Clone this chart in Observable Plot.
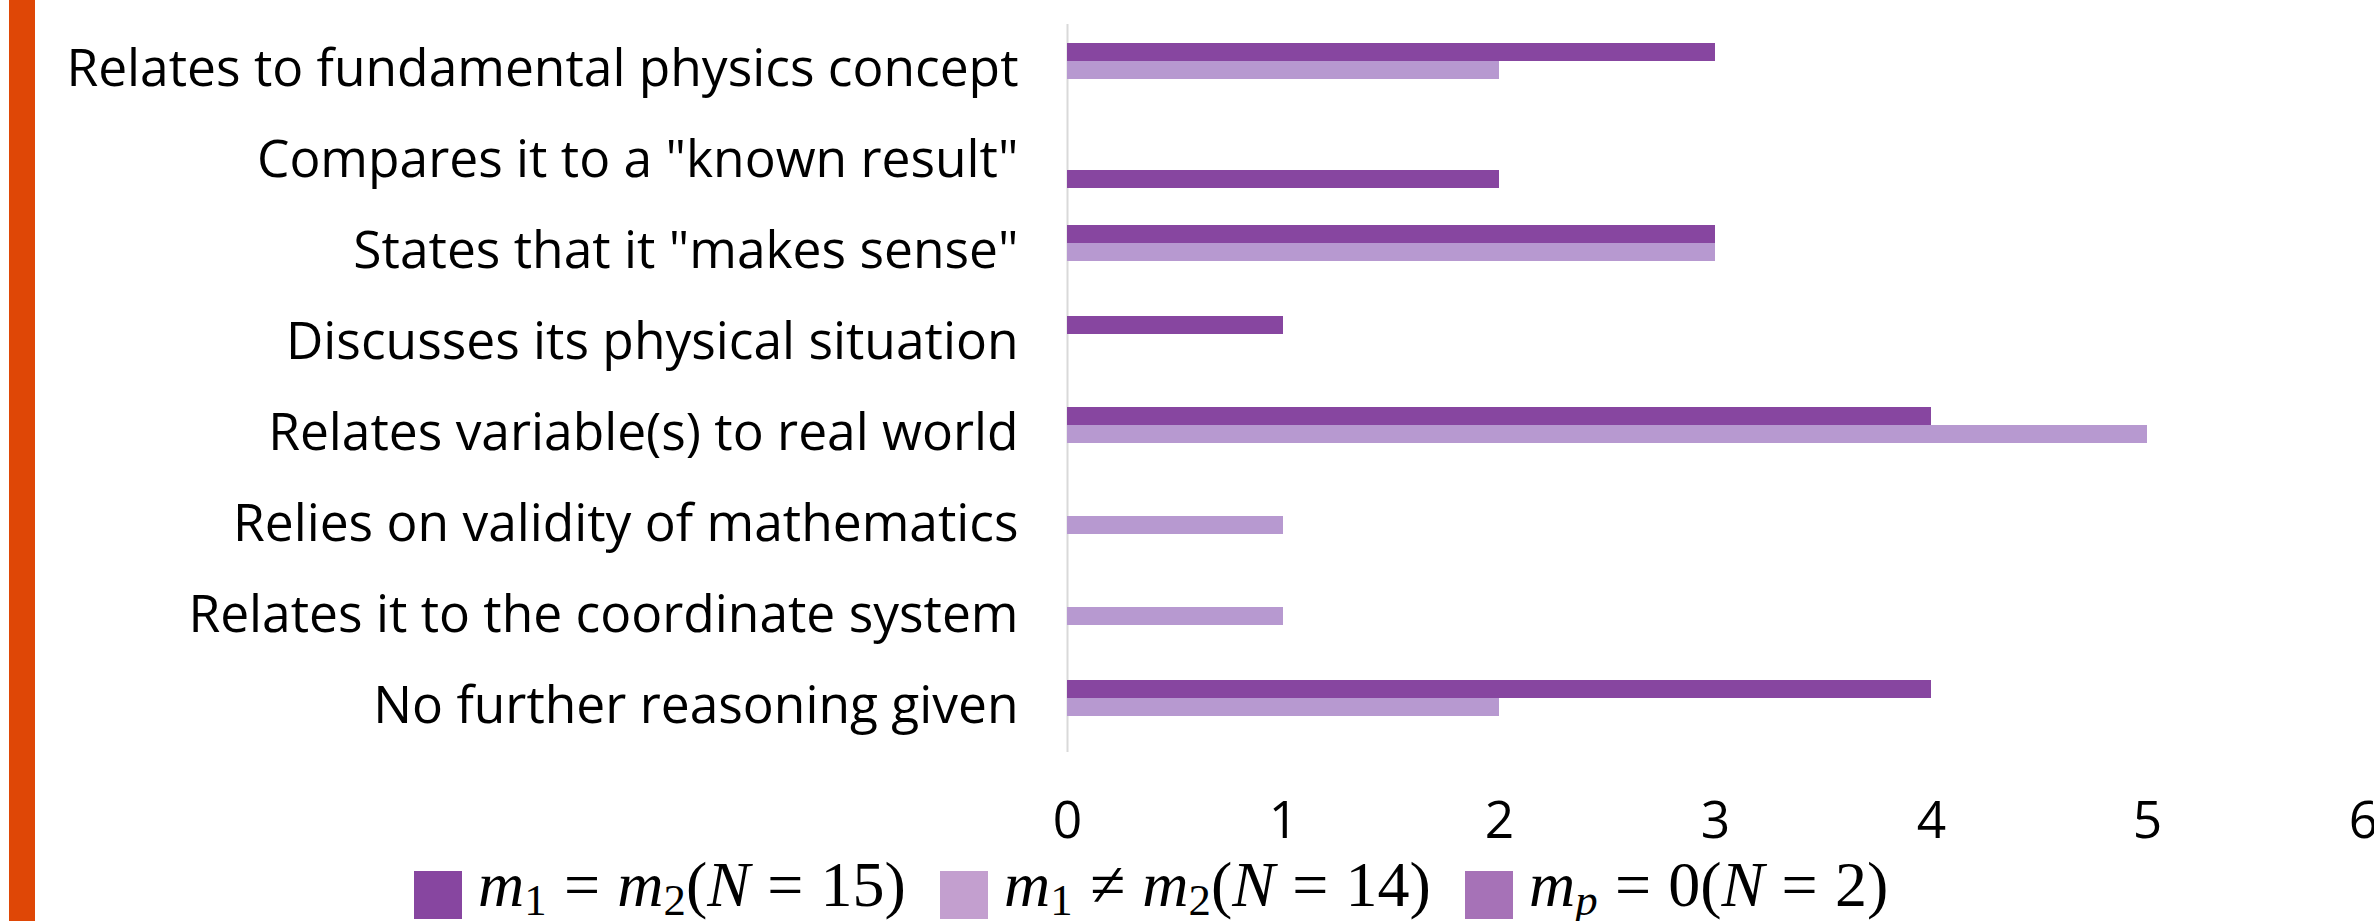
<!DOCTYPE html>
<html>
<head>
<meta charset="utf-8">
<script src="https://cdn.jsdelivr.net/npm/d3@7"></script>
<script src="https://cdn.jsdelivr.net/npm/@observablehq/plot@0.6"></script>
<style>
  html, body { margin: 0; padding: 0; background: #ffffff; width: 2374px; height: 921px; overflow: hidden; }
  #accent { position: absolute; left: 9px; top: 0; width: 26px; height: 921px; background: #df4706; z-index: 2; }
  #chart { position: absolute; left: 0; top: 0; }
  #legend { position: absolute; left: 0; top: 858px; width: 2374px; height: 63px; font-family: "Liberation Serif", "DejaVu Serif", serif; font-size: 64px; color: #000; }
  .item { position: absolute; top: 13px; height: 48px; display: flex; align-items: flex-start; white-space: nowrap; }
  .sw { width: 48px; height: 48px; margin-right: 16px; flex: none; }
  .txt { line-height: 48px; position: relative; top: -10px; }
  .txt sub { font-size: 0.7em; vertical-align: -0.2em; font-style: normal; line-height: 0; }
  .op { margin: 0 0.27em; }
</style>
</head>
<body>
<div id="accent"></div>
<div id="chart"></div>
<div id="legend"></div>
<script>
const categories = [
  "Relates to fundamental physics concept",
  "Compares it to a \"known result\"",
  "States that it \"makes sense\"",
  "Discusses its physical situation",
  "Relates variable(s) to real world",
  "Relies on validity of mathematics",
  "Relates it to the coordinate system",
  "No further reasoning given"
];
const seriesKeys = ["equal", "unequal", "mp0"];
const equalMasses   = [3, 0, 3, 1, 4, 0, 0, 4]; // m1 = m2 (N = 15)
const unequalMasses = [2, 0, 3, 0, 5, 1, 1, 2]; // m1 ≠ m2 (N = 14)
const zeroMass      = [0, 2, 0, 0, 0, 0, 0, 0]; // mp = 0 (N = 2)
const xTicks = [0, 1, 2, 3, 4, 5, 6];
const barColors = ["#8746a0", "#b799d0", "#8746a0"];
const legendColors = ["#8746a0", "#c39fcf", "#a672b7"];

const seriesArrays = [equalMasses, unequalMasses, zeroMass];
const rows = [];
categories.forEach((c, i) => {
  seriesKeys.forEach((k, j) => rows.push({category: c, series: k, value: seriesArrays[j][i]}));
});

const chart = Plot.plot({
  width: 2374,
  height: 858,
  marginLeft: 1067,
  marginRight: 11,
  marginTop: 23,
  marginBottom: 106,
  style: {fontFamily: "Open Sans", fontSize: "51.5px", color: "#000", background: "transparent"},
  x: {domain: [0, 6], ticks: xTicks, tickSize: 0, tickPadding: 49, label: null, tickFormat: d => String(d)},
  fy: {domain: categories, padding: 0, axis: "left", tickSize: 0, tickPadding: 49, label: null},
  y: {domain: seriesKeys, axis: null, paddingInner: 0, paddingOuter: 0.95},
  color: {domain: seriesKeys, range: barColors},
  marks: [
    Plot.ruleX([0], {stroke: "#d9d9d9", strokeWidth: 2}),
    Plot.barX(rows.filter(d => d.value > 0), {x: "value", y: "series", fy: "category", fill: "series"})
  ]
});
document.getElementById("chart").appendChild(chart);

const legendItems = [
  {left: 414, html: "<i>m</i><sub>1</sub><span class='op'>=</span><i>m</i><sub>2</sub>(<i>N</i><span class='op'>=</span>15)"},
  {left: 940, html: "<i>m</i><sub>1</sub><span class='op'>≠</span><i>m</i><sub>2</sub>(<i>N</i><span class='op'>=</span>14)"},
  {left: 1465, html: "<i>m</i><sub><i>p</i></sub><span class='op'>=</span>0(<i>N</i><span class='op'>=</span>2)"}
];
const legend = document.getElementById("legend");
legendItems.forEach((it, i) => {
  const d = document.createElement("div");
  d.className = "item";
  d.style.left = it.left + "px";
  d.innerHTML = `<span class="sw" style="background:${legendColors[i]}"></span><span class="txt">${it.html}</span>`;
  legend.appendChild(d);
});
</script>
</body>
</html>
